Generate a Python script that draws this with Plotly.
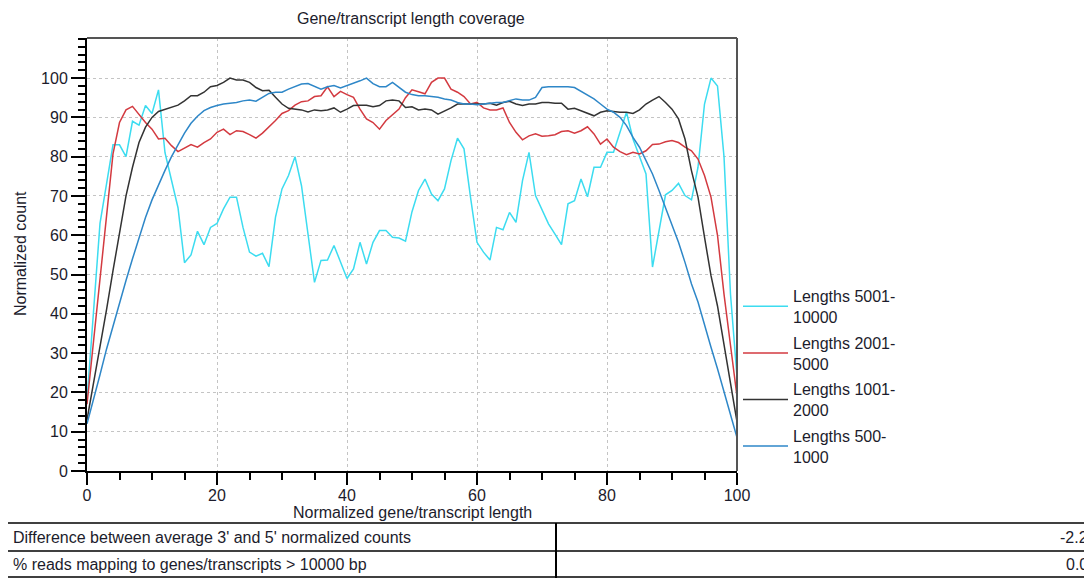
import plotly.graph_objects as go

# the page body keeps an 8px margin, so every position is shifted by it
OFF = 8
W, H = 1092, 578

x_pos = list(range(101))

len_5001_10000 = [18, 41, 63, 73, 83, 83, 80, 89, 88, 93,
                  91, 97, 81, 74, 67, 53, 55, 61, 57.6, 62,
                  63, 66.7, 69.7, 69.7, 62, 55.7, 54.7, 55.4, 52, 64.6,
                  71.8, 75.2, 80, 72.6, 60.3, 48, 53.6, 53.7, 57.4, 53.1,
                  49, 51.4, 58.2, 52.7, 58.2, 61.2, 61.2, 59.5, 59.3, 58.5,
                  66, 71.4, 74.3, 70.5, 68.8, 71.8, 79, 84.7, 82, 69.7,
                  58.2, 55.7, 53.7, 62, 61.4, 65.8, 63.3, 73.9, 81.1, 70.1,
                  66.3, 62.9, 60.3, 57.6, 68, 68.8, 74.3, 69.8, 77.3, 77.3,
                  81.1, 81.1, 86.2, 91.3, 84.5, 80.3, 75.6, 51.9, 61.2, 70.3,
                  71.4, 73.2, 70.1, 69, 77.3, 93.4, 100, 98, 80, 45,
                  24]

len_2001_5000 = [17, 33, 49, 65, 80.7, 88.7, 91.9, 92.8, 90.8, 88.7,
                 87, 84.5, 84.7, 82.8, 81.3, 82.2, 83.1, 82.4, 83.6, 84.5,
                 86.2, 87, 85.6, 86.6, 86.4, 85.6, 84.7, 86, 87.5, 89.2,
                 91, 91.7, 93.1, 94, 94.2, 95.3, 95.5, 97.8, 95.3, 96.6,
                 95.8, 95.1, 92.1, 89.6, 88.7, 87, 89.2, 90.7, 92.1, 95,
                 97, 96.5, 96, 98.9, 100, 100, 97.2, 96.4, 95.3, 93.4,
                 93.8, 92.4, 91.9, 91.9, 92.4, 88.7, 86.2, 84.3, 85.3, 85.8,
                 85.2, 85.3, 85.6, 86.4, 86.6, 86, 86.6, 87.6, 85.8, 83.2,
                 84.5, 82.4, 81.3, 80.5, 81.1, 80.7, 81.5, 83.1, 83.2, 83.8,
                 84.1, 83.6, 82.4, 81.5, 79.4, 75.2, 69.7, 60, 45, 32,
                 19]

len_1001_2000 = [13, 22, 32, 41, 51, 61, 70, 77.3, 83.6, 87.5,
                 90, 91.5, 92.1, 92.5, 93.1, 94.2, 95.5, 95.5, 96.4, 97.8,
                 98.1, 98.9, 100, 99.5, 99.5, 98.9, 97.6, 96.8, 96.9, 95.1,
                 93.4, 92.3, 92.1, 91.9, 91.4, 91.9, 91.7, 91.9, 92.4, 91.3,
                 92.1, 93, 93.1, 93.1, 92.7, 93, 94.2, 94.4, 94.2, 92.5,
                 92.7, 91.9, 92.1, 91.9, 90.8, 91.5, 92.4, 93.4, 93.4, 93.4,
                 93.4, 93.4, 93.6, 93.1, 93.8, 94.1, 93.4, 93, 93.4, 93.4,
                 93.8, 93.8, 93.6, 93.6, 92.1, 92.3, 91.7, 91, 90.4, 91.3,
                 91.7, 91.5, 91.3, 91.3, 91, 91.9, 93.4, 94.4, 95.3, 93.8,
                 92.1, 89.6, 84.5, 76.4, 69.7, 59.5, 49.7, 42, 32, 22,
                 12.5]

len_500_1000 = [12, 18, 24.5, 31, 37, 43, 48.5, 54, 59.5, 64.5,
                69, 73, 76.5, 80, 83, 86, 88.5, 90.3, 91.7, 92.5,
                93, 93.4, 93.6, 93.8, 94.2, 94.4, 94.1, 95.1, 96.1, 96.4,
                96.4, 97.2, 97.8, 98.5, 98.6, 97.8, 97.2, 97.8, 98.1, 97.5,
                98.1, 98.5, 99.3, 100, 98.6, 97.8, 97.8, 98.9, 97.6, 96.4,
                95.8, 95.5, 95.5, 95.3, 95.1, 94.7, 94.4, 93.8, 93.4, 93.4,
                93.2, 93.4, 93.6, 93.8, 93.8, 94.2, 94.7, 94.4, 94.4, 95.1,
                97.6, 97.8, 97.8, 97.8, 97.8, 97.6, 96.6, 95.5, 94.7, 93.4,
                92.1, 91.3, 90, 87.9, 84.9, 82.4, 79, 75.6, 71.4, 67.1,
                62.9, 58.2, 53.1, 47.6, 43, 37, 31.5, 26, 20, 14,
                8.5]

series = [len_5001_10000, len_2001_5000, len_1001_2000, len_500_1000]
series_names = ["Lengths 5001-<br>10000", "Lengths 2001-<br>5000",
                "Lengths 1001-<br>2000", "Lengths 500-<br>1000"]
series_colors = ["#3cdcf0", "#d33a40", "#333333", "#2e87c8"]

table_labels = ["Difference between average 3' and 5' normalized counts",
                "% reads mapping to genes/transcripts > 10000 bp"]
table_values = ["-2.20", "0.00"]

FONT = "Liberation Sans, Arial, sans-serif"
TXT = "#1c1c2c"


def px(x):
    return (x - OFF) / W


def py(y):
    return 1 - (y - OFF) / H


fig = go.Figure()
for i, (vals, name, col) in enumerate(zip(series, series_names, series_colors)):
    fig.add_trace(go.Scatter(x=x_pos, y=vals, mode="lines", name=name,
                             legendgroup=f"g{i}",
                             line=dict(color=col, width=1.5)))

fig.update_layout(
    width=W, height=H,
    margin=dict(l=0, r=0, t=0, b=0, autoexpand=False),
    paper_bgcolor="white", plot_bgcolor="white",
    font=dict(family=FONT, size=16, color=TXT),
    showlegend=True,
    legend=dict(x=px(738), y=py(279), xanchor="left", yanchor="top",
                font=dict(size=16), itemwidth=45, tracegroupgap=2,
                bgcolor="rgba(0,0,0,0)"),
)

fig.update_xaxes(
    domain=[px(87), px(737)], range=[0, 100], automargin=False,
    tickvals=[0, 20, 40, 60, 80, 100], ticklabelstandoff=-3,
    ticks="outside", ticklen=12, tickwidth=1.5, tickcolor="black",
    showline=True, linecolor="black", linewidth=2,
    showgrid=True, gridcolor="#c4c4c4", griddash="dot", gridwidth=1,
    zeroline=False,
    minor=dict(dtick=5, tick0=0, ticks="outside", ticklen=7,
               tickwidth=1.5, tickcolor="black", showgrid=False),
)
fig.update_yaxes(
    domain=[py(471), py(38)], range=[0, 110.2], automargin=False,
    tickvals=list(range(0, 101, 10)),
    ticks="outside", ticklen=14, tickwidth=1.5, tickcolor="black",
    showline=True, linecolor="black", linewidth=2,
    showgrid=True, gridcolor="#c4c4c4", griddash="dot", gridwidth=1,
    zeroline=False,
    minor=dict(dtick=2, tick0=0, ticks="outside", ticklen=7,
               tickwidth=1.5, tickcolor="black", showgrid=False),
)

# frame top / right
fig.add_shape(type="line", xref="paper", yref="paper",
              x0=px(87), x1=px(737), y0=py(38), y1=py(38),
              line=dict(color="#555555", width=2))
fig.add_shape(type="line", xref="paper", yref="paper",
              x0=px(737), x1=px(737), y0=py(38), y1=py(471),
              line=dict(color="#555555", width=2))

# titles
fig.add_annotation(text="Gene/transcript length coverage", xref="paper", yref="paper",
                   x=px(411), y=py(19), xanchor="center", yanchor="middle",
                   showarrow=False, font=dict(size=16))
fig.add_annotation(text="Normalized gene/transcript length", xref="paper", yref="paper",
                   x=px(412), y=py(512), xanchor="center", yanchor="middle",
                   showarrow=False, font=dict(size=16))
fig.add_annotation(text="Normalized count", xref="paper", yref="paper",
                   x=px(20), y=py(254), xanchor="center", yanchor="middle",
                   showarrow=False, textangle=-90, font=dict(size=16))

# table below the chart
row_lines = [523, 551, 577]
for yy in row_lines:
    fig.add_shape(type="line", xref="paper", yref="paper",
                  x0=px(5), x1=px(1100), y0=py(yy), y1=py(yy),
                  line=dict(color="black", width=1.5))
for xx in [5, 556]:
    fig.add_shape(type="line", xref="paper", yref="paper",
                  x0=px(xx), x1=px(xx), y0=py(523), y1=py(578),
                  line=dict(color="black", width=2))
for i, (lab, val) in enumerate(zip(table_labels, table_values)):
    yc = (row_lines[i] + row_lines[i + 1]) / 2
    fig.add_annotation(text=lab, xref="paper", yref="paper", x=px(11), y=py(yc),
                       xanchor="left", yanchor="middle", showarrow=False,
                       font=dict(size=16))
    fig.add_annotation(text=val, xref="paper", yref="paper", x=px(1099), y=py(yc),
                       xanchor="right", yanchor="middle", showarrow=False,
                       font=dict(size=16))

fig.write_html("out.html")
